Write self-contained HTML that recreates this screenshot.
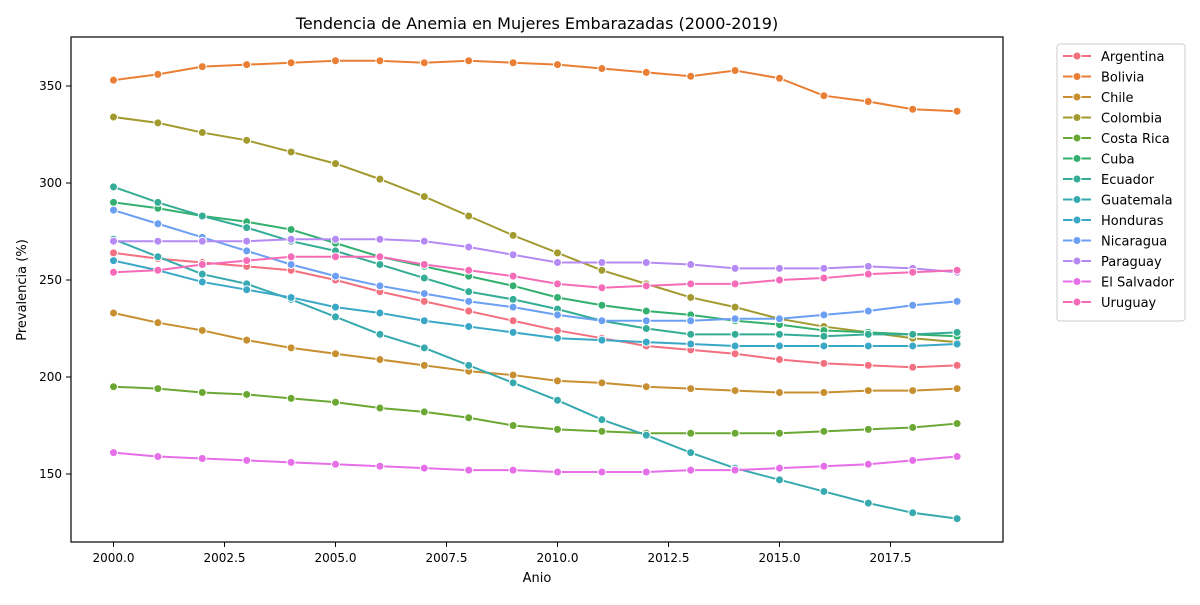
<!DOCTYPE html>
<html><head><meta charset="utf-8"><style>
body{margin:0;background:#fff;}
svg text{font-family:"DejaVu Sans","Liberation Sans",sans-serif;}
</style></head><body>
<svg id="chart" width="1200" height="600" xmlns="http://www.w3.org/2000/svg">
<rect width="1200" height="600" fill="#fff"/>
<text x="537" y="29" font-size="16" text-anchor="middle">Tendencia de Anemia en Mujeres Embarazadas (2000-2019)</text>
<g id="plot"></g>
<rect x="71" y="37" width="932" height="505" fill="none" stroke="#000" stroke-width="1.2"/>
<text x="537" y="582" font-size="13" text-anchor="middle">Anio</text>
<text transform="translate(26,290) rotate(-90)" font-size="13" text-anchor="middle">Prevalencia (%)</text>
<g id="legend"></g>
</svg>
<script>
const years=[2000,2001,2002,2003,2004,2005,2006,2007,2008,2009,2010,2011,2012,2013,2014,2015,2016,2017,2018,2019];
const countries=["Argentina","Bolivia","Chile","Colombia","Costa Rica","Cuba","Ecuador","Guatemala","Honduras","Nicaragua","Paraguay","El Salvador","Uruguay"];
const argentina=[264,261,259,257,255,250,244,239,234,229,224,220,216,214,212,209,207,206,205,206];
const bolivia=[353,356,360,361,362,363,363,362,363,362,361,359,357,355,358,354,345,342,338,337];
const chile=[233,228,224,219,215,212,209,206,203,201,198,197,195,194,193,192,192,193,193,194];
const colombia=[334,331,326,322,316,310,302,293,283,273,264,255,248,241,236,230,226,223,220,218];
const costaRica=[195,194,192,191,189,187,184,182,179,175,173,172,171,171,171,171,172,173,174,176];
const cuba=[290,287,283,280,276,269,262,257,252,247,241,237,234,232,229,227,224,223,222,221];
const ecuador=[298,290,283,277,270,265,258,251,244,240,235,229,225,222,222,222,221,222,222,223];
const guatemala=[271,262,253,248,240,231,222,215,206,197,188,178,170,161,153,147,141,135,130,127];
const honduras=[260,255,249,245,241,236,233,229,226,223,220,219,218,217,216,216,216,216,216,217];
const nicaragua=[286,279,272,265,258,252,247,243,239,236,232,229,229,229,230,230,232,234,237,239];
const paraguay=[270,270,270,270,271,271,271,270,267,263,259,259,259,258,256,256,256,257,256,254];
const elSalvador=[161,159,158,157,156,155,154,153,152,152,151,151,151,152,152,153,154,155,157,159];
const uruguay=[254,255,258,260,262,262,262,258,255,252,248,246,247,248,248,250,251,253,254,255];
const xTicks=[2000,2002.5,2005,2007.5,2010,2012.5,2015,2017.5];
const yTicks=[150,200,250,300,350];
const series=[argentina,bolivia,chile,colombia,costaRica,cuba,ecuador,guatemala,honduras,nicaragua,paraguay,elSalvador,uruguay];
const colors=["#f2707f","#ea7e35","#c78f30","#a29a2e","#6aa833","#33b06f","#35ad96","#37aaaf","#39a7c6","#6b9ff4","#b58af4","#e66ee8","#f56bb7"];
const NS="http://www.w3.org/2000/svg";
const x=v=>113.5+(v-2000)*44.4;
const y=v=>86-(v-350)*1.94;
const plot=document.getElementById('plot');
function mk(tag,attrs,parent){const e=document.createElementNS(NS,tag);for(const k in attrs)e.setAttribute(k,attrs[k]);parent.appendChild(e);return e;}
xTicks.forEach(t=>{
  const l=mk('line',{x1:x(t),x2:x(t),y1:542,y2:547,stroke:'#000'},plot);
  
  
  const tx=mk('text',{x:x(t),y:562,'font-size':12,'text-anchor':'middle'},plot);tx.textContent=t.toFixed(1);
  
  
});
yTicks.forEach(t=>{
  const l=mk('line',{x1:66,x2:71,y1:y(t),y2:y(t),stroke:'#000'},plot);
  
  
  const tx=mk('text',{x:62,y:y(t)+4,'font-size':12,'text-anchor':'end'},plot);tx.textContent=t;
  
  
});
series.forEach((s,i)=>{
  const g=mk('g',{},plot);
  
  
  const p=mk('polyline',{points:s.map((v,j)=>x(years[j])+','+y(v)).join(' '),fill:'none',stroke:colors[i],'stroke-width':2},g);
  
  
  s.forEach((v,j)=>{
    const c=mk('circle',{cx:x(years[j]),cy:y(v),r:4,fill:colors[i],stroke:'#fff','stroke-width':1},g);
    
    
  });
});
const lg=document.getElementById('legend');


mk('rect',{x:1057,y:44,width:128,height:277,rx:3,fill:'#fff',stroke:'#ccc'},lg);
countries.forEach((c,i)=>{
  const yy=56+i*20.5;
  const g=mk('g',{},lg);
  
  
  mk('line',{x1:1063,x2:1091,y1:yy,y2:yy,stroke:colors[i],'stroke-width':2},g);
  mk('circle',{cx:1077,cy:yy,r:4,fill:colors[i],stroke:'#fff','stroke-width':1},g);
  const t=mk('text',{x:1101,y:yy+5,'font-size':13},g);t.textContent=c;
});
</script>
</body></html>
